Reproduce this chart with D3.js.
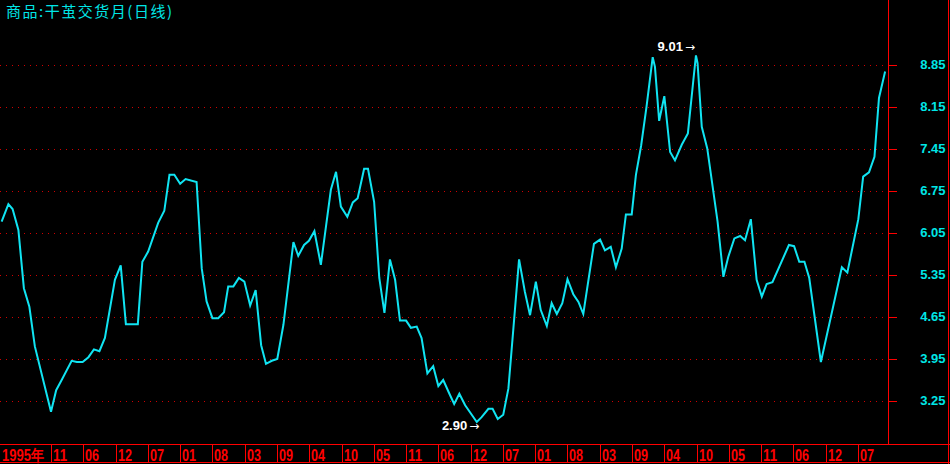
<!DOCTYPE html>
<html><head><meta charset="utf-8">
<script src="https://cdn.jsdelivr.net/npm/d3@7"></script>
<style>html,body{margin:0;padding:0;background:#000;overflow:hidden}</style>
</head><body>
<svg id="c" width="950" height="464"></svg>
<script>
const title = "商品:干茧交货月(日线)";
// bar positions, in units of the bottom-axis label slots
const xPos = [-1.53,-1.32,-1.19,-1.01,-0.84,-0.67,-0.50,0.00,0.16,0.33,
0.64,0.80,0.98,1.16,1.33,1.50,1.67,1.98,2.16,2.32,
2.69,2.83,3.01,3.32,3.51,3.67,3.82,4.00,4.17,4.51,
4.67,4.82,5.00,5.18,5.36,5.49,5.65,5.82,5.99,6.17,
6.34,6.51,6.66,6.84,7.01,7.20,7.51,7.66,7.84,7.99,
8.16,8.36,8.67,8.83,8.98,9.18,9.35,9.50,9.70,9.82,
10.01,10.17,10.33,10.50,10.66,10.81,11.00,11.15,11.33,11.48,
11.66,11.84,12.00,12.15,12.36,12.49,12.65,12.83,13.19,13.34,
13.55,13.68,13.84,14.01,14.17,14.32,14.50,14.68,14.84,15.02,
15.17,15.36,15.51,15.67,15.84,16.00,16.18,16.34,16.49,16.82,
17.01,17.16,17.34,17.50,17.68,17.81,17.99,18.12,18.28,18.45,
18.64,18.71,18.84,19.00,19.18,19.33,19.54,19.73,19.90,19.98,
20.03,20.16,20.33,20.65,20.83,20.98,21.17,21.35,21.50,21.68,
21.86,22.02,22.17,22.35,22.86,23.02,23.18,23.34,23.49,23.85,
24.50,24.67,25.01,25.16,25.34,25.51,25.65,25.84];
const price = [6.24,6.53,6.45,6.10,5.13,4.82,4.16,3.07,3.43,3.60,
3.92,3.90,3.90,3.98,4.11,4.08,4.30,5.27,5.51,4.53,
4.53,5.57,5.74,6.22,6.42,7.02,7.02,6.87,6.95,6.90,
5.46,4.91,4.63,4.63,4.73,5.16,5.16,5.30,5.24,4.84,
5.10,4.18,3.87,3.92,3.95,4.52,5.90,5.67,5.85,5.92,
6.08,5.52,6.77,7.07,6.49,6.32,6.56,6.63,7.12,7.12,
6.57,5.30,4.72,5.61,5.27,4.59,4.59,4.47,4.49,4.30,
3.71,3.83,3.50,3.60,3.35,3.20,3.37,3.18,2.90,2.98,
3.12,3.12,2.95,3.02,3.46,4.43,5.61,5.07,4.68,5.24,
4.77,4.50,4.88,4.70,4.88,5.28,5.03,4.90,4.70,5.87,
5.94,5.76,5.82,5.48,5.79,6.36,6.36,7.02,7.50,8.16,
8.98,8.82,7.92,8.33,7.40,7.26,7.52,7.71,8.60,9.01,
8.88,7.82,7.46,6.24,5.32,5.65,5.96,6.00,5.93,6.28,
5.27,4.99,5.20,5.23,5.85,5.83,5.57,5.57,5.30,3.90,
5.48,5.39,6.28,6.99,7.06,7.32,8.30,8.74];
const xLabels = ["1995年","11","06","12","07","01","08","03","09","04","10","05","11","06","12","07","01","08","03","09","04","10","05","11","06","12","07"];
const yTicks = [3.25,3.95,4.65,5.35,6.05,6.75,7.45,8.15,8.85];
const yMinorTicks = [2.90,3.60,4.30,5.00,5.70,6.40,7.10,7.80,8.50];

const W = 950, H = 464;
const plotRight = 888, plotBottom = 444, axisBottom = 463;
const svg = d3.select("#c");
svg.append("rect").attr("width", W).attr("height", H).attr("fill", "#000");

const x = d3.scaleLinear().domain([0, 25]).range([51, 858]);
const y = d3.scaleLinear().domain([2.55, 8.85]).range([443, 65]);

const red = "#ff0000", cyan = "#00e6e6";

// dotted grid
svg.append("g").selectAll("line").data(yTicks).join("line")
  .attr("x1", 0).attr("x2", plotRight - 1)
  .attr("y1", d => Math.round(y(d)) + 0.5).attr("y2", d => Math.round(y(d)) + 0.5)
  .attr("stroke", "#d00000").attr("stroke-width", 1).attr("stroke-dasharray", "1,5");

// right axis
const gA = svg.append("g").attr("transform", `translate(${plotRight + 0.5},0)`);
gA.call(d3.axisRight(y).tickValues(yMinorTicks).tickSize(4).tickFormat(""));
gA.call(d3.axisRight(y).tickValues(yTicks).tickSize(8).tickFormat(d3.format(".2f")));
gA.select(".domain").remove();
gA.selectAll(".tick line").attr("stroke", red).attr("shape-rendering", "crispEdges");
gA.selectAll(".tick text")
  .attr("x", 945 - plotRight).attr("dy", null).attr("y", 3)
  .attr("text-anchor", "end").attr("fill", cyan)
  .attr("font-family", "Liberation Sans, Arial, sans-serif")
  .attr("font-size", 13).attr("font-weight", "bold");

// frame lines
const frame = svg.append("g").attr("stroke", red).attr("stroke-width", 1).attr("shape-rendering", "crispEdges");
frame.append("line").attr("x1", plotRight + 0.5).attr("x2", plotRight + 0.5).attr("y1", 0).attr("y2", plotBottom);
frame.append("line").attr("x1", W - 1.5).attr("x2", W - 1.5).attr("y1", 0).attr("y2", H);
frame.append("line").attr("x1", 0).attr("x2", W).attr("y1", plotBottom + 0.5).attr("y2", plotBottom + 0.5);
frame.append("line").attr("x1", 0).attr("x2", W).attr("y1", axisBottom - 0.5).attr("y2", axisBottom - 0.5);

// bottom axis separators and labels
const sepIdx = d3.range(0, xLabels.length - 1);
frame.selectAll(".sep").data(sepIdx).join("line").attr("class", "sep")
  .attr("x1", d => Math.round(x(d)) + 0.5).attr("x2", d => Math.round(x(d)) + 0.5)
  .attr("y1", plotBottom).attr("y2", axisBottom);
const xt = svg.append("g").selectAll("text").data(xLabels).join("text")
  .attr("x", (d, i) => i === 0 ? 2 : Math.round(x(i - 1)) + 2)
  .attr("y", 461)
  .attr("fill", red)
  .attr("font-family", "Liberation Sans, Arial, sans-serif")
  .attr("font-size", (d, i) => i === 0 ? 16 : 17).attr("font-weight", "bold")
  .text(d => d);
xt.filter((d, i) => i === 0).attr("textLength", 42).attr("lengthAdjust", "spacingAndGlyphs");
xt.filter((d, i) => i > 0).attr("textLength", 14).attr("lengthAdjust", "spacingAndGlyphs");

// price line
const pts = xPos.map((p, i) => [p, price[i]]);
const line = d3.line().x(d => x(d[0])).y(d => y(d[1]));
svg.append("path").datum(pts).attr("d", line)
  .attr("fill", "none").attr("stroke", "#10e4f2").attr("stroke-width", 2)
  .attr("stroke-linejoin", "miter");

// max/min annotations
const fmt = d3.format(".2f");
const iMax = d3.maxIndex(price), iMin = d3.minIndex(price);
const ann = svg.append("g").attr("fill", "#ffffff")
  .attr("font-family", "Liberation Sans, DejaVu Sans, sans-serif")
  .attr("font-size", 13).attr("font-weight", "bold").attr("text-anchor", "end");
function annotate(i, dx, dy) {
  const t = ann.append("text").attr("x", x(xPos[i]) + dx).attr("y", y(price[i]) + dy);
  t.append("tspan").text(fmt(price[i]));
  t.append("tspan").attr("font-family", "DejaVu Sans, sans-serif").attr("font-weight", "normal")
    .attr("font-size", 12).attr("dx", 2).text("→");
}
annotate(iMax, -1, -4);
annotate(iMin, 2.5, 8);

// title
svg.append("text").attr("x", 6).attr("y", 17).attr("fill", cyan)
  .attr("font-family", "Noto Sans CJK SC, sans-serif").attr("font-size", 15)
  .attr("textLength", 166).attr("lengthAdjust", "spacing").text(title);
</script>
</body></html>
